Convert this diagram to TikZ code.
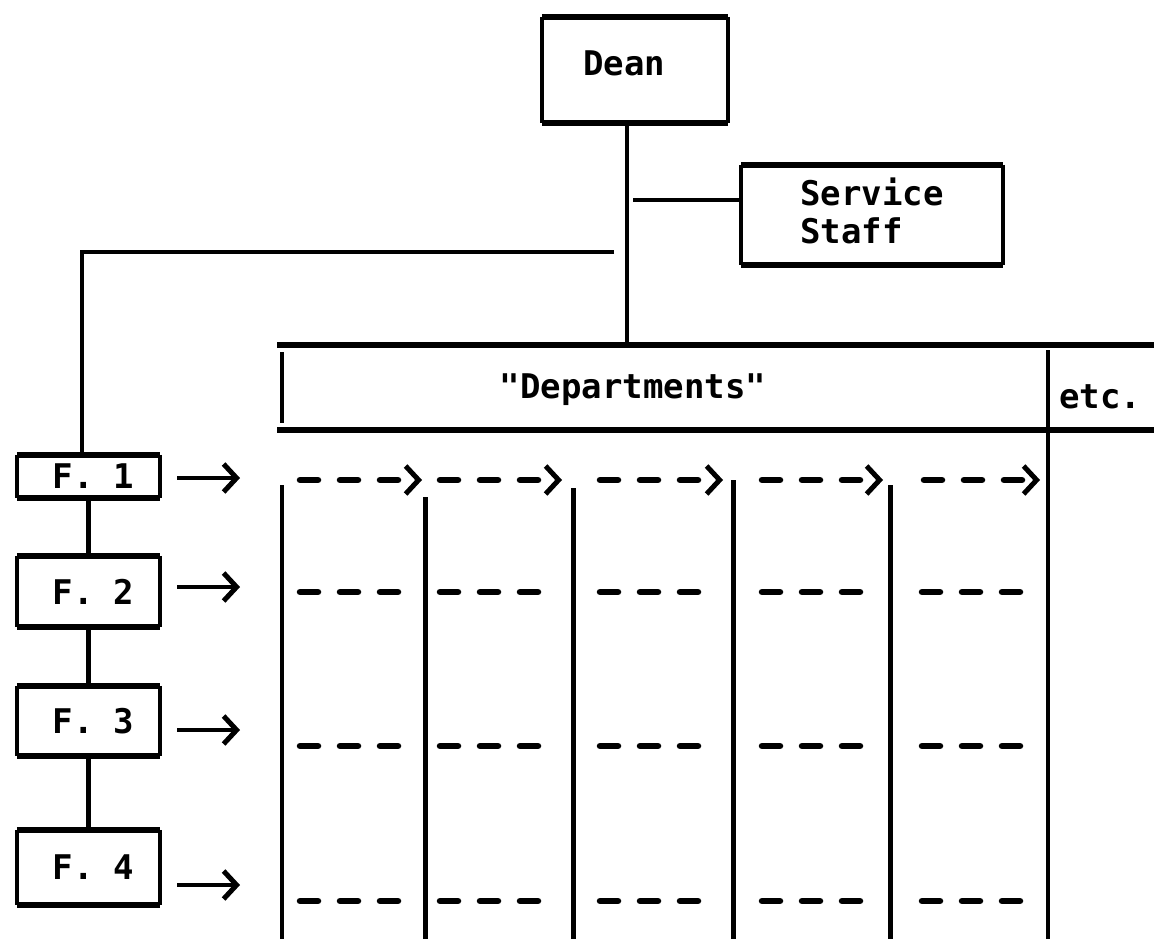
\documentclass[tikz,border=0pt]{standalone}
\usepackage{fontspec}
\setmonofont{DejaVu Sans Mono}
\usetikzlibrary{arrows.meta,calc}
\newcommand{\frameit}[1]{%
  \draw[hb] (#1.north west) -- (#1.north east) (#1.south west) -- (#1.south east);
  \draw[vb] (#1.north west) -- (#1.south west) (#1.north east) -- (#1.south east);}
\begin{document}
\begin{tikzpicture}[x=1pt,y=-1pt,
  lbl/.style={font=\fontsize{34}{40}\selectfont\ttfamily\bfseries, inner sep=0pt},
  boxn/.style={lbl, align=left},
  hb/.style={line width=6pt},
  vb/.style={line width=4pt},
  conn/.style={line width=4.5pt},
  col/.style={line width=5pt},
  dcol/.style={line width=4pt},
  dsh/.style={line width=6.5pt, line cap=round, dash pattern=on 18pt off 22pt},
  tipb/.style={-{Straight Barb[length=13pt,width=28pt,line width=5pt]}},
]
\useasboundingbox (0,0) rectangle (1154,939);

% boxes
\node[boxn, minimum width=186pt, minimum height=106pt, text depth=14pt] (dean) at (635,70) {Dean\hspace*{22pt}};
\frameit{dean}
\node[boxn, minimum width=261pt, minimum height=100pt, text depth=8pt] (svc) at (872,215) {Service\\[-2pt]Staff};
\frameit{svc}
\node[boxn, minimum width=143pt, minimum height=43pt] (f1) at (88.5,476.5) {\hspace*{10pt}F. 1};
\frameit{f1}
\node[boxn, minimum width=143pt, minimum height=71pt] (f2) at (88.5,591.5) {\hspace*{10pt}F. 2};
\frameit{f2}
\node[boxn, minimum width=143pt, minimum height=70pt] (f3) at (88.5,721) {\hspace*{10pt}F. 3};
\frameit{f3}
\node[boxn, minimum width=143pt, minimum height=75pt] (f4) at (88.5,867.5) {\hspace*{10pt}F. 4};
\frameit{f4}

% departments band
\draw[hb] (277,345) -- (1154,345);
\draw[hb] (277,430) -- (1154,430);
\draw[vb] (282,352) -- (282,423);
\node[lbl] (dept) at (633,390) {"Departments"};
\node[lbl] (etc) at (1100,397) {etc.};

% trunk and connectors
\coordinate (tb) at (627,345);
\draw[conn] (dean.south -| tb) -- (tb);
\coordinate (sj) at (633,200);
\draw[conn] (sj) -- (sj -| svc.west);
\coordinate (hj) at (614,252);
\coordinate (hc) at (82,252);
\draw[conn] (hj) -- (hc) -- (hc |- f1.north);
\draw[conn] (f1.south) -- (f2.north);
\draw[conn] (f2.south) -- (f3.north);
\draw[conn] (f3.south) -- (f4.north);

% arrows from F boxes
\coordinate (r1) at (240,478);
\coordinate (r2) at (240,587);
\coordinate (r3) at (240,730);
\coordinate (r4) at (240,885);
\draw[conn,tipb] ($(f1.east |- r1)+(17,0)$) -- (r1);
\draw[conn,tipb] ($(f2.east |- r2)+(17,0)$) -- (r2);
\draw[conn,tipb] ($(f3.east |- r3)+(17,0)$) -- (r3);
\draw[conn,tipb] ($(f4.east |- r4)+(17,0)$) -- (r4);

% columns
\draw[dcol] (282,485) -- (282,939);
\draw[col] (425,497) -- (425,939);
\draw[col] (573,488) -- (573,939);
\draw[col] (733,480) -- (733,939);
\draw[col] (890,485) -- (890,939);
\draw[dcol] (1048,350) -- (1048,939);

% row 1 dashed arrows
\foreach \a/\b in {300/422, 440/562, 600/723, 762/883, 924/1040}
  \draw[dsh,tipb] (\a,480) -- (\b,480);

% rows 2-4 dashed
\foreach \y in {592,746,901}
  \foreach \a/\b in {300/400, 440/540, 600/700, 762/865, 922/1025}
    \draw[dsh] (\a,\y) -- (\b,\y);
\end{tikzpicture}
\end{document}
